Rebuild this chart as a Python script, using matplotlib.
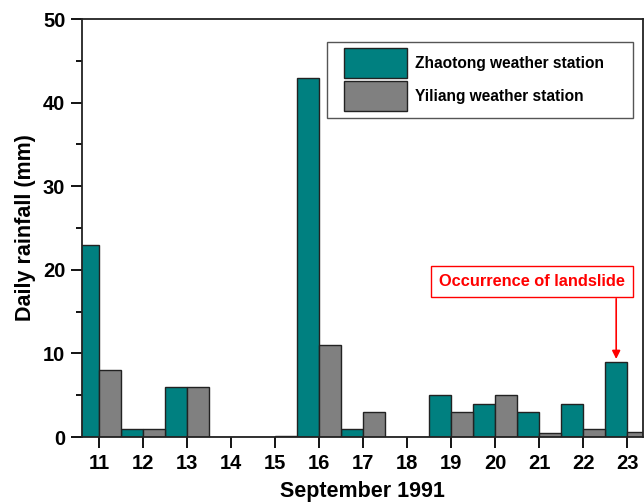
import numpy as np
import matplotlib.pyplot as plt
from matplotlib.patches import Rectangle
from matplotlib.ticker import MultipleLocator

plt.rcParams['font.family'] = ['Liberation Sans', 'DejaVu Sans']
plt.rcParams['font.weight'] = 'bold'

# daily rainfall, September 1991 (mm)
days = np.arange(11, 24)
zhaotong = [23, 1, 6, 0, 0, 43, 1, 0, 5, 4, 3, 4, 9]
yiliang = [8, 1, 6, 0, 0.1, 11, 3, 0, 3, 5, 0.5, 1, 0.6]

teal = '#008080'
grey = '#808080'

fig = plt.figure(figsize=(6.44, 5.03), dpi=100)
ax = fig.add_axes([0.1273, 0.1312, 0.8712, 0.831])

ax.bar(days - 0.25, zhaotong, width=0.5, color=teal, edgecolor='#222222',
       linewidth=1.0, label='Zhaotong weather station')
ax.bar(days + 0.25, yiliang, width=0.5, color=grey, edgecolor='#222222',
       linewidth=1.0, label='Yiliang weather station')

ax.set_xlim(10.61, 23.36)
ax.set_ylim(0, 50)
ax.set_xticks(days)
ax.yaxis.set_major_locator(MultipleLocator(10))
ax.yaxis.set_minor_locator(MultipleLocator(5))
ax.tick_params(axis='both', which='major', direction='out', length=8, width=1.3,
               labelsize=14.5, pad=4)
ax.tick_params(axis='y', which='minor', direction='out', length=4.5, width=1.3)
for sp in ax.spines.values():
    sp.set_linewidth(1.3)
    sp.set_color('#222222')

ax.set_xlabel('September 1991', fontsize=15.5, fontweight='bold', labelpad=6)
ax.set_ylabel('Daily rainfall (mm)', fontsize=15.5, fontweight='bold', labelpad=5)

# legend frame drawn by hand so the entries can sit inset from its left edge
ax.add_patch(Rectangle((0.4367, 0.763), 0.5453, 0.182, transform=ax.transAxes,
                       facecolor='white', edgecolor='#555555', linewidth=1.0, zorder=4))
leg = ax.legend(loc='upper left', bbox_to_anchor=(0.467, 0.9306), fontsize=11.2,
                handlelength=4.06, handleheight=2.6, labelspacing=0.2,
                handletextpad=0.5, borderpad=0, borderaxespad=0, frameon=False)
leg.set_zorder(5)

# landslide marker over the 23rd
ax.text(20.83, 18.6, 'Occurrence of landslide', color='red', fontsize=11.75,
        fontweight='bold', ha='center', va='center',
        bbox=dict(boxstyle='square,pad=0.5', facecolor='white', edgecolor='red', linewidth=1.0))
ax.annotate('', xy=(22.75, zhaotong[-1]), xytext=(22.75, 16.87),
            arrowprops=dict(arrowstyle='-|>', color='red', lw=1.2, mutation_scale=12))

fig.savefig('out.png', dpi=100)
